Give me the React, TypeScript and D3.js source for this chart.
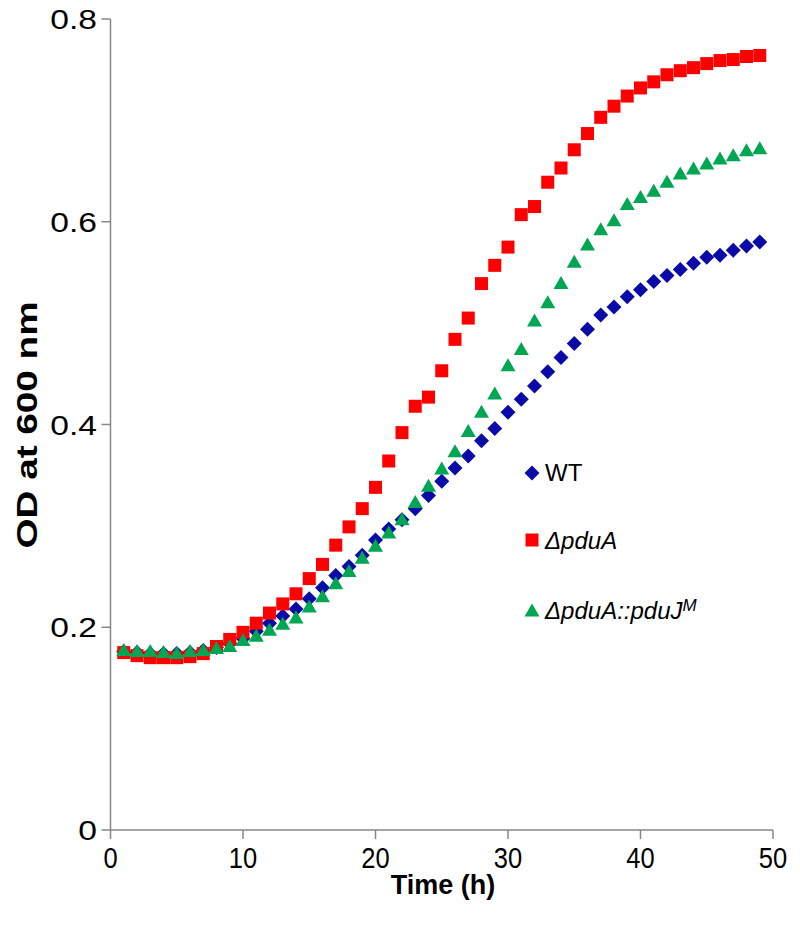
import React from "react";
import * as d3 from "d3";

const hours = [1,2,3,4,5,6,7,8,9,10,11,12,13,14,15,16,17,18,19,20,21,22,23,24,25,26,27,28,29,30,31,32,33,34,35,36,37,38,39,40,41,42,43,44,45,46,47,48,49];

const wt = [0.176,0.175,0.174,0.174,0.174,0.175,0.177,0.180,0.184,0.189,0.196,0.204,0.211,0.218,0.228,0.239,0.251,0.260,0.271,0.286,0.297,0.306,0.317,0.330,0.344,0.357,0.369,0.384,0.396,0.412,0.425,0.438,0.452,0.466,0.480,0.494,0.508,0.516,0.526,0.533,0.541,0.547,0.553,0.559,0.565,0.567,0.572,0.576,0.580];

const pduA = [0.175,0.172,0.170,0.170,0.170,0.171,0.174,0.181,0.188,0.195,0.204,0.214,0.223,0.233,0.248,0.262,0.281,0.299,0.317,0.338,0.364,0.392,0.418,0.427,0.453,0.484,0.505,0.539,0.557,0.575,0.607,0.615,0.639,0.653,0.671,0.687,0.703,0.714,0.724,0.732,0.738,0.745,0.749,0.752,0.756,0.759,0.760,0.763,0.764];

const pduJM = [0.178,0.177,0.177,0.176,0.175,0.177,0.178,0.180,0.182,0.188,0.192,0.198,0.204,0.210,0.221,0.231,0.244,0.256,0.269,0.281,0.294,0.307,0.324,0.340,0.357,0.374,0.394,0.413,0.431,0.459,0.475,0.503,0.521,0.540,0.561,0.578,0.593,0.602,0.618,0.625,0.631,0.640,0.648,0.653,0.658,0.663,0.666,0.671,0.673];

const xTicks = [0, 10, 20, 30, 40, 50];
const yTicks = [0, 0.2, 0.4, 0.6, 0.8];

const BLUE = "#0a0aa8";
const RED = "#ff0000";
const GREEN = "#00a651";
const AXIS = "#878787";
const FONT = "'Liberation Sans', Arial, sans-serif";

function marker(kind: string, cx: number, cy: number, color: string, key?: any) {
  if (kind === "diamond") {
    const r = 7.5;
    return <path key={key} d={`M${cx},${cy - r}L${cx + r},${cy}L${cx},${cy + r}L${cx - r},${cy}Z`} fill={color} />;
  }
  if (kind === "square") {
    const h = 6.5;
    return <rect key={key} x={cx - h} y={cy - h} width={2 * h} height={2 * h} fill={color} />;
  }
  const w = 7.5, hh = 6.5;
  return <path key={key} d={`M${cx},${cy - hh}L${cx + w},${cy + hh}L${cx - w},${cy + hh}Z`} fill={color} />;
}

export default function App() {
  const x = d3.scaleLinear().domain([0, 50]).range([110.5, 773]);
  const y = d3.scaleLinear().domain([0, 0.8]).range([830, 19]);

  const series = [
    { name: "WT", values: wt, color: BLUE, kind: "diamond" },
    { name: "pduA", values: pduA, color: RED, kind: "square" },
    { name: "pduJM", values: pduJM, color: GREEN, kind: "triangle" },
  ];

  const fmt = (v: number) => (v === 0 ? "0" : d3.format(".1f")(v));

  return (
    <svg width={800} height={925} style={{ position: "absolute", left: 0, top: 0, background: "#fff" }}>
      <rect x={0} y={0} width={800} height={925} fill="#fff" />
      {/* axes */}
      <line x1={x(0)} x2={x(0)} y1={y(0.8)} y2={y(0)} stroke={AXIS} strokeWidth={1.5} />
      <line x1={x(0)} x2={x(50)} y1={y(0)} y2={y(0)} stroke={AXIS} strokeWidth={1.5} />
      {yTicks.map((t) => (
        <g key={"y" + t}>
          <line x1={x(0) - 9} x2={x(0)} y1={y(t)} y2={y(t)} stroke={AXIS} strokeWidth={1.5} />
          <text
            transform={`translate(97,${y(t) + 10}) scale(1.2,1)`}
            textAnchor="end"
            fontFamily={FONT}
            fontSize={28}
            fill="#000"
          >
            {fmt(t)}
          </text>
        </g>
      ))}
      {xTicks.map((t) => (
        <g key={"x" + t}>
          <line x1={x(t)} x2={x(t)} y1={y(0)} y2={y(0) + 9} stroke={AXIS} strokeWidth={1.5} />
          <text
            transform={`translate(${x(t)},${868}) scale(0.85,1)`}
            textAnchor="middle"
            fontFamily={FONT}
            fontSize={30}
            fill="#000"
          >
            {t}
          </text>
        </g>
      ))}
      <text x={443} y={894} textAnchor="middle" fontFamily={FONT} fontSize={27} fontWeight="bold" fill="#000">
        Time (h)
      </text>
      <text
        transform={`translate(37,425) rotate(-90) scale(1.29,1)`}
        textAnchor="middle"
        fontFamily={FONT}
        fontSize={30}
        fontWeight="bold"
        fill="#000"
      >
        OD at 600 nm
      </text>

      {/* data */}
      {series.map((s) => (
        <g key={s.name}>
          {s.values.map((v, i) => marker(s.kind, x(hours[i]), y(v), s.color, i))}
        </g>
      ))}

      {/* legend */}
      {marker("diamond", 532, 473, BLUE)}
      <text x={545} y={481} fontFamily={FONT} fontSize={24} fill="#000">WT</text>
      {marker("square", 532, 540, RED)}
      <text x={545} y={549} fontFamily={FONT} fontSize={24} fontStyle="italic" fill="#000">ΔpduA</text>
      {marker("triangle", 532, 610, GREEN)}
      <text x={545} y={619} fontFamily={FONT} fontSize={24} fontStyle="italic" fill="#000">
        ΔpduA::pduJ
        <tspan fontSize={17} dy={-8}>M</tspan>
      </text>
    </svg>
  );
}
